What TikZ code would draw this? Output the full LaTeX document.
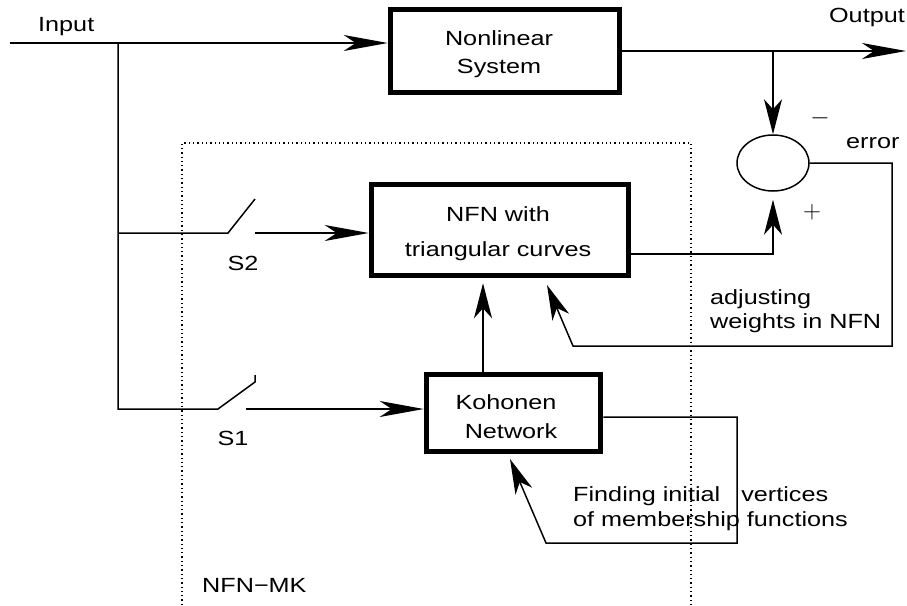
\documentclass[tikz,border=0pt]{standalone}
\usepackage{fontspec}
\setmainfont[FakeStretch=1.23]{Liberation Sans}
\usetikzlibrary{arrows.meta,shapes.geometric}
\begin{document}
\begin{tikzpicture}[x=1pt,y=-1pt,
  every node/.style={font=\fontsize{20.5}{24}\selectfont},
  ln/.style={line width=1.5pt},
  blk/.style={draw,line width=5.5pt,inner sep=0pt},
  txt/.style={inner sep=0pt,anchor=base},
  txtw/.style={inner sep=0pt,anchor=base west},
  sign/.style={inner sep=0pt,font=\fontsize{34}{36}\selectfont},
  harr/.style={-{Stealth[length=44pt,width=16pt,inset=12pt]}},
  varr/.style={-{Stealth[length=35pt,width=18pt,inset=10pt]}},
  dotbox/.style={line width=1.3pt,dash pattern=on 1.3pt off 3pt}]
\useasboundingbox (0,0) rectangle (907,605);

% blocks
\node[blk,minimum width=229pt,minimum height=83pt] (nl) at (505,51) {};
\node[blk,minimum width=257pt,minimum height=91pt] (nfn) at (500,230) {};
\node[blk,minimum width=174pt,minimum height=77pt] (koh) at (513.5,413) {};
\node[draw,ellipse,line width=1.5pt,inner sep=0pt,minimum width=72pt,minimum height=56pt] (sum) at (773,163) {};

% block texts
\node[txt] (tnl1) at (499,45) {Nonlinear};
\node[txt] (tnl2) at (499,73) {System};
\node[txt] (tnf1) at (498,221) {NFN with};
\node[txt] (tnf2) at (498,256) {triangular curves};
\node[txt] (tko1) at (506,409) {Kohonen};
\node[txt] (tko2) at (511,438) {Network};

% labels
\node[txtw] (lin) at (38,31) {Input};
\node[inner sep=0pt,anchor=base east] (lout) at (905,23) {Output};
\node[sign] (lminus) at (820,118) {$-$};
\node[sign] (lplus) at (812,212) {$+$};
\node[txtw] (lerr) at (846,148) {error};
\node[inner sep=0pt] (ls2) at (243,263) {S2};
\node[inner sep=0pt] (ls1) at (233,438) {S1};
\node[txtw] (ladj1) at (710,304) {adjusting};
\node[txtw] (ladj2) at (710,328) {weights in NFN};
\node[txtw] (lfin1) at (573,501) {Finding initial\hspace{14pt} vertices};
\node[txtw] (lfin2) at (573,526) {of membership functions};
\node[txtw] (lmk) at (202,592) {NFN−MK};

% coordinates
\coordinate (in0) at (10,43);
\coordinate (br) at (118,43);
\coordinate (outend) at (906,51);
\coordinate (tap) at (773,51);
\coordinate (s2o) at (255,233);
\coordinate (s1o) at (246,409);
\coordinate (ny) at (0,254);
\coordinate (kx) at (483,0);
\coordinate (ky) at (0,417);
\coordinate (etip) at (547,285);
\coordinate (ktip) at (510,459);

% input
\draw[ln,harr] (in0) -- (in0 -| nl.west);
\draw[ln] (br) -- (118,409) -- (218,409) -- (255,382) -- (255,375);
\draw[ln] (118,233) -- (228,233) -- (255,199);
\draw[ln,harr] (s2o) -- (s2o -| nfn.west);
\draw[ln,harr] (s1o) -- (s1o -| koh.west);

% output
\draw[ln,harr] (nl.east) -- (outend);
\draw[ln,varr] (tap) -- (sum.north);
\draw[ln,varr,shorten >=8pt] (ny -| nfn.east) -| (sum.south);

% error feedback
\draw[ln,varr] (sum.east) -| (892,346) -- (573,346) -- (etip);

% Kohonen
\draw[ln,varr,shorten >=5pt] (koh.north -| kx) -- (nfn.south -| kx);
\draw[ln,varr] (ky -| koh.east) -- (737,417) -- (737,543) -- (546,543) -- (ktip);

% dotted frame
\draw[dotbox] (182,605) -- (182,143) -- (691,143) -- (691,605);
\end{tikzpicture}
\end{document}
